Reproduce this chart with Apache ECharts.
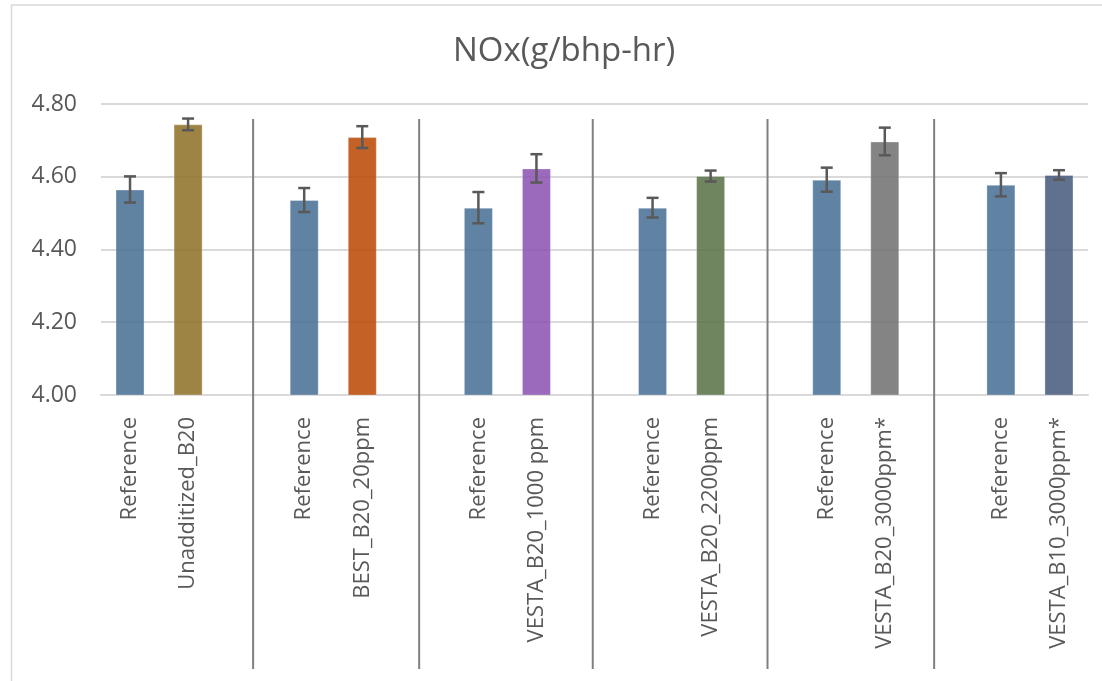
<!DOCTYPE html>
<html>
<head>
<meta charset="utf-8">
<script src="https://cdn.jsdelivr.net/npm/echarts@6/dist/echarts.min.js"></script>
<style>
html,body{margin:0;padding:0;background:#fff;}
#chart{width:1102px;height:681px;}
</style>
</head>
<body>
<div id="chart"></div>
<script>
// ---- data ----
const categories = ['Reference','Unadditized_B20','','Reference','BEST_B20_20ppm','','Reference','VESTA_B20_1000 ppm','','Reference','VESTA_B20_2200ppm','','Reference','VESTA_B20_3000ppm*','','Reference','VESTA_B10_3000ppm*'];
const values = [4.565,4.744,null,4.536,4.709,null,4.515,4.623,null,4.515,4.602,null,4.592,4.697,null,4.578,4.605];
const errors = [0.036,0.016,null,0.033,0.030,null,0.043,0.039,null,0.027,0.015,null,0.033,0.038,null,0.032,0.013];
const yTicks = [4.0,4.2,4.4,4.6,4.8];
const titleText = 'NOx(g/bhp-hr)';

// ---- styles ----
const barColors = ['#446d93','#8c6f23','','#446d93','#b84500','','#446d93','#8a50b1','','#446d93','#567043','','#446d93','#6f6f6f','','#446d93','#44577b'];
const sepShift = [0.12,-0.02,-0.03,-0.02,-0.15];
const font = '"Open Sans", sans-serif';
const textColor = '#595959';

const chart = echarts.init(document.getElementById('chart'), null, {renderer:'canvas'});

const barData = values.map((v,i)=> v==null ? null : {
  value: v,
  itemStyle: {color: barColors[i], opacity: 0.85, borderColor: 'rgba(255,255,255,0.35)', borderWidth: 1}
});
const errData = [];
values.forEach((v,i)=>{ if(v!=null) errData.push([i, v-errors[i], v+errors[i]]); });
const sepData = [];
categories.forEach((c,i)=>{ if(c==='') sepData.push([i]); });

chart.setOption({
  animation:false,
  title:{
    text:titleText, left:448, top:30,
    textStyle:{fontFamily:font, fontSize:33, fontWeight:'normal', color:textColor}
  },
  graphic:[{
    type:'rect', silent:true, z:-10,
    shape:{x:11.5, y:5, width:1300, height:900},
    style:{fill:'none', stroke:'#d9d9d9', lineWidth:1.5}
  }],
  grid:{left:101, right:14, top:104, bottom:286, containLabel:false},
  xAxis:{
    type:'category', data:categories,
    axisLine:{show:true, lineStyle:{color:'#d9d9d9', width:2}},
    axisTick:{show:false},
    axisLabel:{rotate:90, interval:0, margin:22, fontFamily:font, fontSize:22, color:textColor}
  },
  yAxis:{
    type:'value', min:yTicks[0], max:yTicks[yTicks.length-1], interval:0.2,
    axisLine:{show:false}, axisTick:{show:false},
    splitLine:{lineStyle:{color:'#d9d9d9', width:2}},
    axisLabel:{margin:24, fontFamily:font, fontSize:23, color:textColor, formatter:v=>v.toFixed(2)}
  },
  series:[
    {
      type:'bar', data:barData, barWidth:'50%', z:2
    },
    {
      type:'custom', data:errData, z:5,
      renderItem:(params, api)=>{
        const x = api.value(0);
        const lo = api.coord([x, api.value(1)]);
        const hi = api.coord([x, api.value(2)]);
        const cw = 6;
        const st = {stroke:'#595959', lineWidth:2.5};
        return {type:'group', children:[
          {type:'line', shape:{x1:lo[0],y1:lo[1],x2:hi[0],y2:hi[1]}, style:st},
          {type:'line', shape:{x1:lo[0]-cw,y1:lo[1],x2:lo[0]+cw,y2:lo[1]}, style:st},
          {type:'line', shape:{x1:hi[0]-cw,y1:hi[1],x2:hi[0]+cw,y2:hi[1]}, style:st}
        ]};
      }
    },
    {
      type:'custom', data:sepData, z:6, clip:false,
      renderItem:(params, api)=>{
        const idx = api.value(0);
        const p = api.coord([idx, yTicks[0]]);
        const bw = api.size([1,0])[0];
        const x = p[0] + sepShift[params.dataIndex]*bw;
        return {type:'line', shape:{x1:x, y1:119, x2:x, y2:669}, style:{stroke:'#808080', lineWidth:2}};
      }
    }
  ]
});
</script>
</body>
</html>
